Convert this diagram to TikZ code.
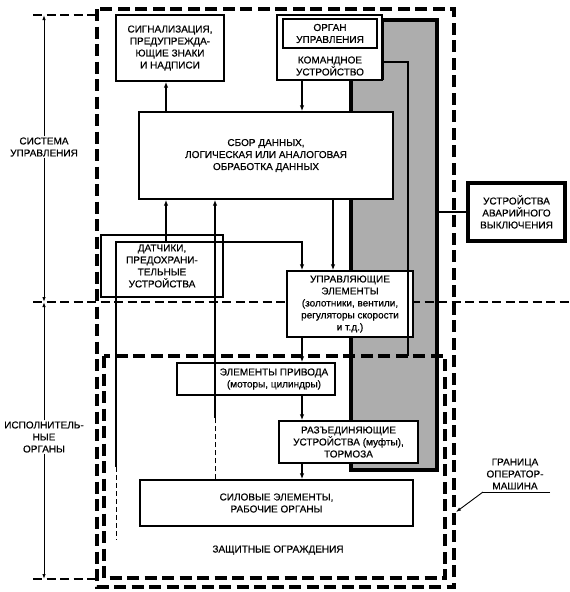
\documentclass[tikz,border=0pt]{standalone}
\usepackage{fontspec}
\setmainfont[FakeBold=0.5]{Liberation Sans}
\usetikzlibrary{arrows.meta,positioning}

\tikzset{
  lbl/.style={align=center, inner sep=1pt, font=\fontsize{10}{12}\selectfont},
  box/.style={draw, line width=1.4pt, inner sep=0pt, lbl},
  wbox/.style={box, fill=white},
  wire/.style={line width=1.3pt},
  arr/.style={wire, -{Latex[length=6pt,width=4.5pt]}},
  dimarr/.style={line width=0.9pt, -{Latex[length=5pt,width=3.5pt]}},
  bound/.style={line width=3.2pt, dash pattern=on 12pt off 5.5pt},
  dimdash/.style={line width=1.5pt, dash pattern=on 9pt off 4.5pt},
}

\begin{document}
\begin{tikzpicture}[x=1pt,y=-1pt]
  \useasboundingbox (0,0) rectangle (570,592);

  %Emergency stop area (shaded)
  \fill[black!32] (351,80) -- (351,470) -- (437,470) -- (437,20) -- (382,20) -- (382,80) -- cycle;
  \draw[line width=3.4pt] (351,80) -- (351,470) -- (437,470) -- (437,20) -- (382,20) -- (382,80);

  %Dimension lines on the left
  \draw[dimdash] (33,15) -- (100,15) ;
  \draw[dimdash] (33,302) -- (570,302) ;
  \draw[dimdash] (33,579) -- (97,579) ;
  \node[lbl] (sys) at (44,147) {СИСТЕМА\\УПРАВЛЕНИЯ};
  \node[lbl] (act) at (44,437) {ИСПОЛНИТЕЛЬ-\\НЫЕ\\ОРГАНЫ};
  \coordinate (d1) at (44,15) ;
  \coordinate (d2) at (44,302) ;
  \coordinate (d3) at (44,579) ;
  \draw[dimarr] (sys) -- (d1) ;
  \draw[dimarr] (sys) -- (d2) ;
  \draw[dimarr] (act) -- (d2) ;
  \draw[dimarr] (act) -- (d3) ;

  %Operator-machine border and guards
  \draw[bound] (97,9) rectangle (454,587) ;
  \draw[bound] (104,356) rectangle (445,578) ;

  %Boxes
  \node[box, minimum width=108pt, minimum height=66pt] (sig) at (170,48)
    {СИГНАЛИЗАЦИЯ,\\ПРЕДУПРЕЖДА-\\ЮЩИЕ ЗНАКИ\\И НАДПИСИ};
  \node[wbox, minimum width=105pt, minimum height=65pt] (cmd) at (329.5,47.5) {};
  \node[box, minimum width=94pt, minimum height=29pt] (org) at (330,33.5)
    {ОРГАН\\УПРАВЛЕНИЯ};
  \node[lbl] (cmdlbl) at (330,66) {КОМАНДНОЕ\\УСТРОЙСТВО};
  \node[wbox, minimum width=254pt, minimum height=87pt] (data) at (266,155.5)
    {СБОР ДАННЫХ,\\ЛОГИЧЕСКАЯ ИЛИ АНАЛОГОВАЯ\\ОБРАБОТКА ДАННЫХ};
  \node[box, minimum width=122pt, minimum height=62pt] (sens) at (162,266)
    {ДАТЧИКИ,\\ПРЕДОХРАНИ-\\ТЕЛЬНЫЕ\\УСТРОЙСТВА};
  \node[wbox, minimum width=126pt, minimum height=66pt] (ctrl) at (350,304)
    {УПРАВЛЯЮЩИЕ\\ЭЛЕМЕНТЫ\\(золотники, вентили,\\регуляторы скорости\\и т.д.)};
  \node[box, minimum width=158pt, minimum height=32pt] (drive) at (256,379) {};
  \node[lbl] (drivelbl) at (274,379) {ЭЛЕМЕНТЫ ПРИВОДА\\(моторы, цилиндры)};
  \node[wbox, minimum width=139pt, minimum height=42pt] (decpl) at (348.5,442)
    {РАЗЪЕДИНЯЮЩИЕ\\УСТРОЙСТВА (муфты),\\ТОРМОЗА};
  \node[box, minimum width=273pt, minimum height=46pt] (force) at (276.5,503)
    {СИЛОВЫЕ ЭЛЕМЕНТЫ,\\РАБОЧИЕ ОРГАНЫ};
  \node[box, line width=3.4pt, minimum width=97pt, minimum height=58pt] (emerg) at (516.5,212)
    {УСТРОЙСТВА\\АВАРИЙНОГО\\ВЫКЛЮЧЕНИЯ};
  \node[lbl] (guardlbl) at (278,550) {ЗАЩИТНЫЕ ОГРАЖДЕНИЯ};
  \node[lbl] (bndlbl) at (515,474) {ГРАНИЦА\\ОПЕРАТОР-\\МАШИНА};

  %Columns for the connectors
  \coordinate (colA) at (166,0) ;
  \coordinate (colB) at (215,0) ;
  \coordinate (colC) at (302,0) ;
  \coordinate (colD) at (333,0) ;

  %Connectors
  \draw[arr] (colA |- data.north) -- (colA |- sig.south) ;
  \draw[arr] (colC |- cmd.south) -- (colC |- data.north) ;
  \draw[arr] (colD |- data.south) -- (colD |- ctrl.north) ;
  \draw[arr] (colC |- ctrl.south) -- (colC |- drive.north) ;
  \draw[arr] (colC |- drive.south) -- (colC |- decpl.north) ;
  \draw[arr] (colC |- decpl.south) -- (colC |- force.north) ;

  %Sensor feedback lines
  \coordinate (sl) at (116,242) ;
  \coordinate (sb) at (116,467) ;
  \coordinate (se) at (116,540) ;
  \draw[arr] (sb) -- (sl) -- (colC |- sl) -- (colC |- ctrl.north) ;
  \draw[line width=1pt, dash pattern=on 5pt off 3pt] (sb) -- (se) ;
  \draw[arr] (colA |- sl) -- (colA |- data.south) ;
  \coordinate (fb) at (215,418) ;
  \draw[line width=1pt, dash pattern=on 5pt off 3pt] (colB |- force.north) -- (fb) ;
  \draw[arr] (fb) -- (colB |- data.south) ;

  %Command device to guard, emergency stop link
  \coordinate (tap) at (408,356) ;
  \draw[wire] (cmd.east |- 0,62) -| (tap) ;
  \draw[wire] (emerg.west -| 437,0) -- (emerg.west) ;

  %Border label
  \coordinate (ul1) at (483,492) ;
  \coordinate (ul2) at (550,492) ;
  \coordinate (bndpt) at (456,512) ;
  \draw[line width=0.9pt] (ul2) -- (ul1) ;
  \draw[dimarr] (ul1) -- (bndpt) ;
\end{tikzpicture}
\end{document}
